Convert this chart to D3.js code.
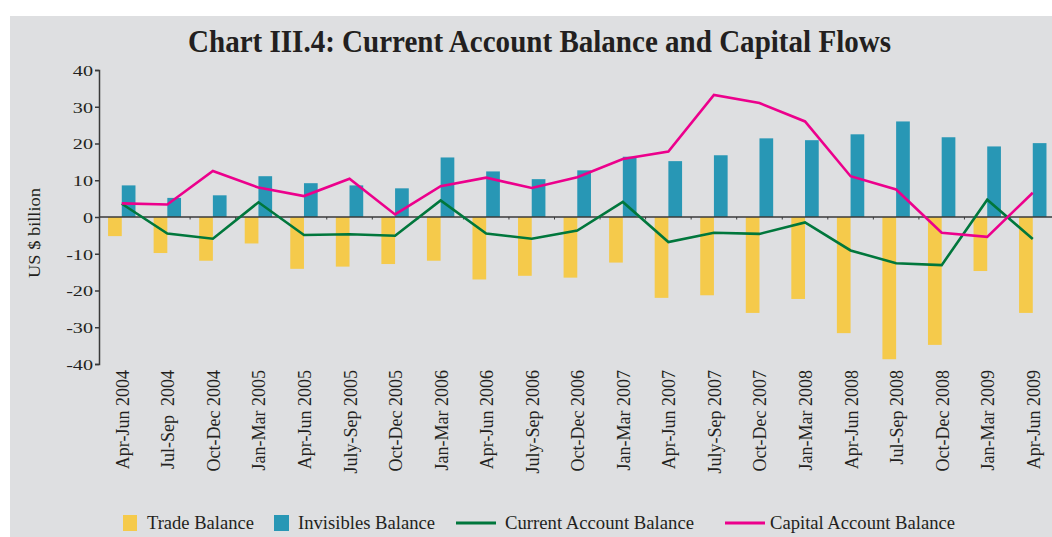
<!DOCTYPE html>
<html>
<head>
<meta charset="utf-8">
<script src="https://cdn.jsdelivr.net/npm/d3@7"></script>
<style>
  html, body { margin: 0; padding: 0; background: #ffffff; }
  svg { display: block; }
  text { font-family: "Liberation Serif", "Times New Roman", serif; fill: #231f20; }
</style>
</head>
<body>
<svg id="chart" width="1052" height="537"></svg>
<script>
const categories = ["Apr-Jun 2004","Jul-Sep  2004","Oct-Dec 2004","Jan-Mar 2005","Apr-Jun 2005","July-Sep 2005","Oct-Dec 2005","Jan-Mar 2006","Apr-Jun 2006","July-Sep 2006","Oct-Dec 2006","Jan-Mar 2007","Apr-Jun 2007","July-Sep 2007","Oct-Dec 2007","Jan-Mar 2008","Apr-Jun 2008","Jul-Sep 2008","Oct-Dec 2008","Jan-Mar 2009","Apr-Jun 2009"];
const tradeBalance = [-5.2,-9.8,-11.9,-7.2,-14.1,-13.5,-12.8,-11.9,-17.0,-16.0,-16.5,-12.4,-22.0,-21.3,-26.1,-22.3,-31.6,-38.7,-34.8,-14.7,-26.1];
const invisiblesBalance = [8.6,5.2,5.9,11.1,9.2,8.6,7.8,16.2,12.4,10.3,12.7,16.4,15.2,16.8,21.4,20.9,22.5,26.0,21.7,19.2,20.1];
const currentAccountBalance = [3.6,-4.5,-5.9,4.0,-4.9,-4.7,-5.1,4.5,-4.5,-5.9,-3.7,4.1,-6.8,-4.3,-4.6,-1.5,-9.1,-12.6,-13.1,4.7,-6.0];
const capitalAccountBalance = [3.7,3.4,12.5,8.0,5.7,10.4,0.7,8.4,10.7,7.9,10.8,15.8,17.8,33.2,31.0,26.0,11.1,7.5,-4.3,-5.4,6.6];
const yTicks = [-40,-30,-20,-10,0,10,20,30,40];
const seriesNames = ["Trade Balance","Invisibles Balance","Current Account Balance","Capital Account Balance"];
const colors = { trade: "#f5ca4b", invis: "#2897b5", cab: "#00773c", kab: "#ec008c" };

const svg = d3.select("#chart");
svg.append("rect").attr("x", 10).attr("y", 16).attr("width", 1042).attr("height", 521).attr("fill", "#dedfe1");

const x = d3.scaleBand().domain(categories).range([99, 99 + 21 * 45.55]).padding(0);
const y = d3.scaleLinear().domain([-40, 40]).range([364, 70]);
const bw = 13.7;
const cx = c => x(c) + x.bandwidth() / 2;

// Title
svg.append("text").attr("x", 539.5).attr("y", 52).attr("text-anchor", "middle")
  .attr("font-size", 32).attr("font-weight", "bold")
  .attr("textLength", 703).attr("lengthAdjust", "spacingAndGlyphs")
  .text("Chart III.4: Current Account Balance and Capital Flows");

// Bars
svg.append("g").selectAll("rect").data(categories).join("rect")
  .attr("x", (c) => cx(c) - bw).attr("width", bw)
  .attr("y", (c, i) => y(Math.max(0, tradeBalance[i])))
  .attr("height", (c, i) => Math.abs(y(tradeBalance[i]) - y(0)))
  .attr("fill", colors.trade);
svg.append("g").selectAll("rect").data(categories).join("rect")
  .attr("x", (c) => cx(c)).attr("width", bw)
  .attr("y", (c, i) => y(Math.max(0, invisiblesBalance[i])))
  .attr("height", (c, i) => Math.abs(y(invisiblesBalance[i]) - y(0)))
  .attr("fill", colors.invis);

// Zero line with small ticks
svg.append("line").attr("x1", 99).attr("x2", 1052).attr("y1", y(0)).attr("y2", y(0))
  .attr("stroke", "#3a3a3a").attr("stroke-width", 1.5);
svg.append("g").selectAll("line").data(categories.slice(1)).join("line")
  .attr("x1", c => x(c)).attr("x2", c => x(c))
  .attr("y1", y(0)).attr("y2", y(0) + 2.5)
  .attr("stroke", "#3a3a3a").attr("stroke-width", 1);

// Lines
const lineGen = arr => d3.line().x((c) => cx(c)).y((c, i) => y(arr[i]))(categories);
svg.append("path").attr("d", lineGen(currentAccountBalance)).attr("fill", "none")
  .attr("stroke", colors.cab).attr("stroke-width", 2.6).attr("stroke-linejoin", "miter");
svg.append("path").attr("d", lineGen(capitalAccountBalance)).attr("fill", "none")
  .attr("stroke", colors.kab).attr("stroke-width", 2.6).attr("stroke-linejoin", "miter");

// Y axis
const yAxis = svg.append("g").attr("transform", "translate(99,0)")
  .call(d3.axisLeft(y).tickValues(yTicks).tickSize(4).tickPadding(2).tickFormat(d => String(d)));
yAxis.select(".domain").attr("stroke", "#3a3a3a").attr("stroke-width", 1.5);
yAxis.selectAll(".tick line").attr("stroke", "#3a3a3a").attr("stroke-width", 1.5);
yAxis.selectAll(".tick text").attr("font-size", 15.5).attr("font-family", "Liberation Serif, serif")
  .attr("fill", "#231f20").attr("dy", "0.34em")
  .each(function() { const l = this.getComputedTextLength(); d3.select(this).attr("textLength", l * 1.3).attr("lengthAdjust", "spacingAndGlyphs"); });

// Y axis title
svg.append("text").attr("transform", "translate(40,233) rotate(-90)").attr("text-anchor", "middle")
  .attr("font-size", 17).attr("textLength", 90).attr("lengthAdjust", "spacingAndGlyphs").text("US $ billion");

// X labels
svg.append("g").selectAll("text").data(categories).join("text")
  .attr("transform", c => `translate(${cx(c) + 7},370) rotate(-90)`)
  .attr("text-anchor", "end").attr("font-size", 18)
  .style("white-space", "pre")
  .text(c => c);

// Legend
const legendY = 529;
const lg = svg.append("g");
lg.append("rect").attr("x", 123).attr("y", 515).attr("width", 14).attr("height", 16).attr("fill", colors.trade);
lg.append("text").attr("x", 147).attr("y", legendY).attr("font-size", 18).attr("textLength", 107).attr("lengthAdjust", "spacingAndGlyphs").text(seriesNames[0]);
lg.append("rect").attr("x", 274).attr("y", 515).attr("width", 15).attr("height", 16).attr("fill", colors.invis);
lg.append("text").attr("x", 298).attr("y", legendY).attr("font-size", 18).attr("textLength", 137).attr("lengthAdjust", "spacingAndGlyphs").text(seriesNames[1]);
lg.append("line").attr("x1", 456).attr("x2", 496).attr("y1", 523).attr("y2", 523).attr("stroke", colors.cab).attr("stroke-width", 3);
lg.append("text").attr("x", 505).attr("y", legendY).attr("font-size", 18).attr("textLength", 189).attr("lengthAdjust", "spacingAndGlyphs").text(seriesNames[2]);
lg.append("line").attr("x1", 725).attr("x2", 765).attr("y1", 523).attr("y2", 523).attr("stroke", colors.kab).attr("stroke-width", 3);
lg.append("text").attr("x", 770).attr("y", legendY).attr("font-size", 18).attr("textLength", 185).attr("lengthAdjust", "spacingAndGlyphs").text(seriesNames[3]);
</script>
</body>
</html>
